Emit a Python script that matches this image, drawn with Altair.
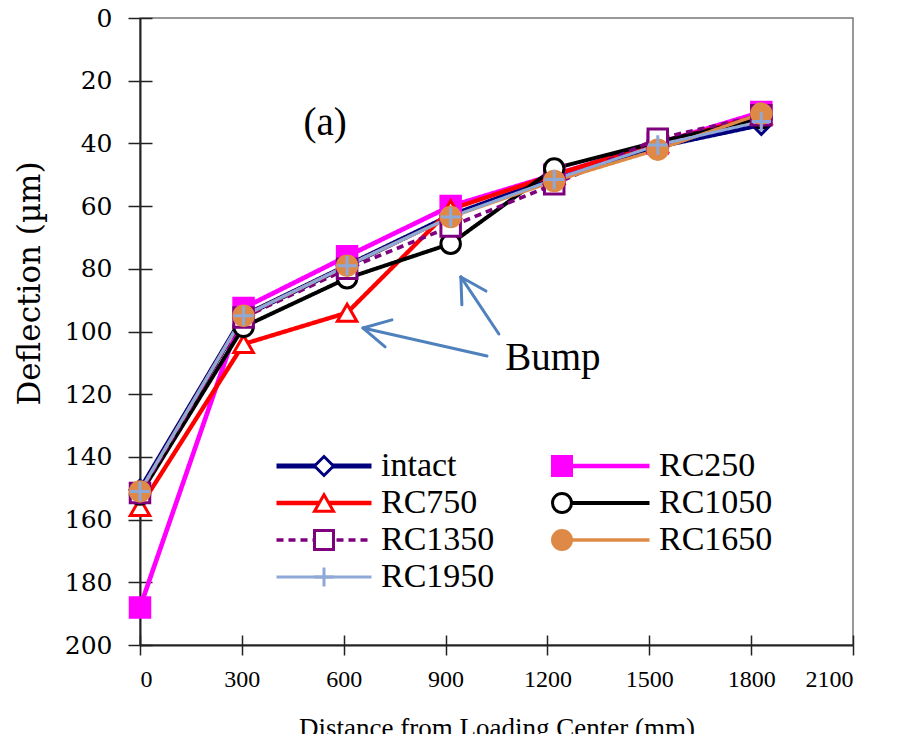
import altair as alt
import pandas as pd

# ---------------- data ----------------
distance = [0, 305, 610, 915, 1220, 1525, 1830]
series = ["intact", "RC250", "RC750", "RC1050", "RC1350", "RC1650", "RC1950"]
intact = [150.5, 95, 79, 63, 51, 41, 34]
rc250 = [188, 92.5, 76, 60, 50, 40, 30]
rc750 = [156, 104, 94, 61, 50, 40, 31]
rc1050 = [152, 98.5, 83, 72, 48, 39.5, 32]
rc1350 = [151.5, 95.5, 80, 66.5, 53, 38.5, 31]
rc1650 = [151, 95, 79, 63.5, 52, 42, 30.5]
rc1950 = [151, 95, 79, 63.5, 51.5, 40.5, 33]
values = [intact, rc250, rc750, rc1050, rc1350, rc1650, rc1950]

x_ticks = [0, 300, 600, 900, 1200, 1500, 1800, 2100]
y_ticks = [0, 20, 40, 60, 80, 100, 120, 140, 160, 180, 200]

# annotations (data units)
label_text = ["(a)", "Bump"]
label_x = [545, 1216]
label_y = [33.5, 108.5]
arrow_x = [1022, 1057, 742, 722, 948, 1019]
arrow_y = [107.8, 100.8, 96.3, 104.9, 91.5, 87.1]
arrow_x2 = [657, 945, 657, 657, 945, 945]
arrow_y2 = [98.9, 82.6, 98.9, 98.9, 82.6, 82.6]

# ---------------- styles ----------------
line_colors = ["#00007F", "#FF00FF", "#FF0000", "#000000", "#7F007F", "#DE8A46", "#8EA8D8"]
fill_colors = ["white", "#FF00FF", "white", "white", "white", "#DE8A46", "transparent"]
shapes = ["diamond", "square", "triangle-up", "circle", "square", "circle", "M-1,0L1,0M0,-1L0,1"]
widths = [5, 3, 2.5, 2.5, 2.5, 3, 3.5]
dashes = [[1, 0], [1, 0], [1, 0], [1, 0], [7, 5], [1, 0], [1, 0]]

FONT = "Liberation Serif"
WIDE = "DejaVu Serif"

rows = []
for s, vals in zip(series, values):
    for d, v in zip(distance, vals):
        rows.append({"series": s, "distance": d, "deflection": v})
df = pd.DataFrame(rows)

ann = pd.DataFrame({"t": label_text, "x": label_x, "y": label_y})
arr = pd.DataFrame({"x": arrow_x, "y": arrow_y, "x2": arrow_x2, "y2": arrow_y2})

xscale = alt.Scale(domain=[0, 2100], nice=False, zero=False)
yscale = alt.Scale(domain=[0, 200], reverse=True, nice=False, zero=False)

stroke_scale = alt.Scale(domain=series, range=line_colors)

x_axis = alt.Axis(values=x_ticks, format="d", orient="bottom", tickSize=10, labelPadding=12,
                  labelFontSize=24, labelFont=FONT, titleFont=FONT, titleFontSize=27,
                  titleFontWeight="normal", titlePadding=24, grid=False, domainColor="#222",
                  domainWidth=2, tickColor="#222", tickWidth=1.5, labelColor="black",
                  titleColor="black")
y_axis = alt.Axis(values=y_ticks, format="d", orient="left", tickSize=12, labelPadding=16,
                  labelFontSize=25, labelFont=WIDE, titleFont=WIDE, titleFontSize=31,
                  titleFontWeight="normal", titlePadding=18, titleY=265, grid=False,
                  domainColor="#222", domainWidth=2, tickColor="#222", tickWidth=1.5,
                  labelColor="black", titleColor="black")
# inward half of the crossing tick marks
x_axis_in = alt.Axis(values=x_ticks, orient="bottom", tickSize=10, offset=-10, labels=False,
                     domain=False, grid=False, title=None, tickColor="#222", tickWidth=1.5)
y_axis_in = alt.Axis(values=y_ticks, orient="left", tickSize=12, offset=-12, labels=False,
                     domain=False, grid=False, title=None, tickColor="#222", tickWidth=1.5)

LEG_COMMON = dict(orient="none", legendX=167, legendY=431, columns=2, direction="horizontal",
                  title=None, labelFont=FONT, labelFontSize=34, rowPadding=3, padding=0,
                  labelLimit=300, symbolSize=361, labelOffset=40, columnPadding=50)
line_legend = alt.Legend(symbolType="M-5,0L5,0", symbolFillColor="transparent",
                         labelColor="black", **LEG_COMMON)
point_legend = alt.Legend(symbolStrokeWidth=3, labelColor="transparent", **LEG_COMMON)

base = alt.Chart(df)

lines = base.mark_line(clip=False).encode(
    x=alt.X("distance:Q", scale=xscale, axis=x_axis, title="Distance from Loading Center (mm)"),
    y=alt.Y("deflection:Q", scale=yscale, axis=y_axis, title="Deflection (µm)"),
    stroke=alt.Stroke("series:N", scale=stroke_scale, legend=line_legend, sort=series),
    strokeDash=alt.StrokeDash("series:N", scale=alt.Scale(domain=series, range=dashes),
                              legend=line_legend, sort=series),
    strokeWidth=alt.StrokeWidth("series:N", scale=alt.Scale(domain=series, range=widths),
                                legend=line_legend, sort=series),
    detail="series:N",
)

points = base.mark_point(filled=True, size=380, strokeWidth=3, opacity=1).encode(
    x=alt.X("distance:Q", scale=xscale, axis=None),
    y=alt.Y("deflection:Q", scale=yscale, axis=None),
    stroke=alt.Stroke("series:N", scale=stroke_scale, legend=point_legend, sort=series),
    fill=alt.Fill("series:N", scale=alt.Scale(domain=series, range=fill_colors),
                  legend=point_legend, sort=series),
    shape=alt.Shape("series:N", scale=alt.Scale(domain=series, range=shapes),
                    legend=point_legend, sort=series),
)

arrows = alt.Chart(arr).mark_rule(color="#4F81BD", strokeWidth=3, strokeCap="round").encode(
    x=alt.X("x:Q", scale=xscale, axis=x_axis_in),
    y=alt.Y("y:Q", scale=yscale, axis=y_axis_in),
    x2="x2:Q", y2="y2:Q",
)

texts = alt.Chart(ann).mark_text(font=FONT, fontSize=39, color="black").encode(
    x=alt.X("x:Q", scale=xscale, axis=None),
    y=alt.Y("y:Q", scale=yscale, axis=None),
    text="t:N",
)

chart = alt.layer(lines, points, arrows, texts).resolve_legend(
    stroke="independent", fill="independent", shape="independent",
    strokeDash="independent", strokeWidth="independent",
).resolve_axis(x="independent", y="independent").properties(
    width=713, height=627,
    autosize=alt.AutoSizeParams(type="none"),
    padding={"left": 132, "top": 10, "right": 30, "bottom": 89},
    background="white",
).configure_view(stroke="#777", strokeWidth=1.5)

chart.save("out.html", embed_options={"renderer": "svg", "actions": False})
